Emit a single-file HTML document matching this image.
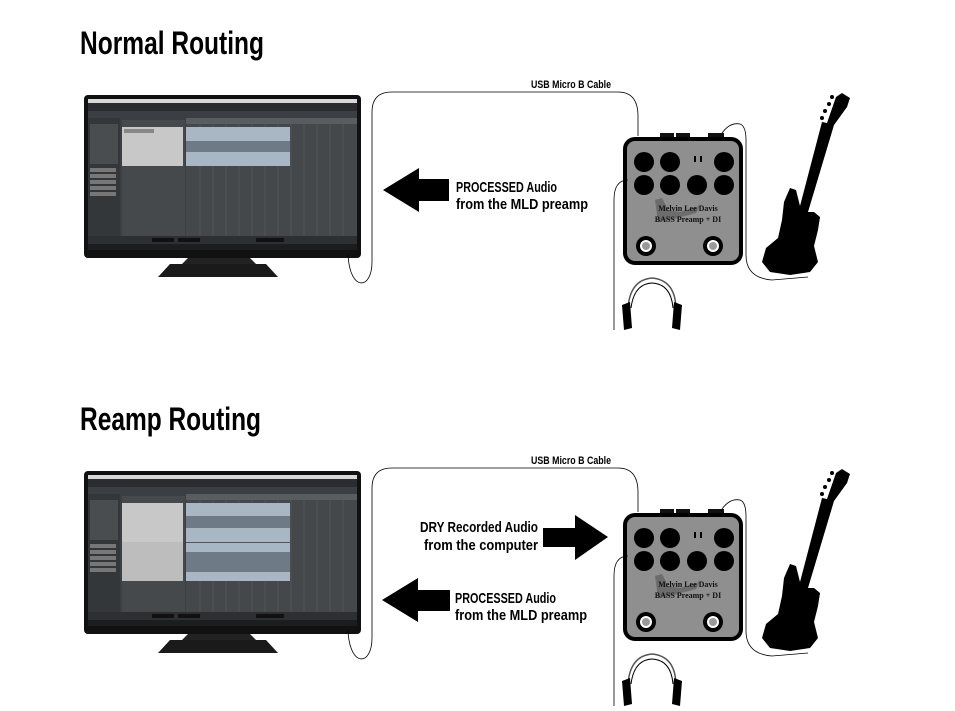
<!DOCTYPE html>
<html><head><meta charset="utf-8"><style>
html,body{margin:0;padding:0;background:#fff;}
svg{display:block;}
.t{font-family:"Liberation Sans",sans-serif;font-weight:bold;fill:#000;}
</style></head><body>
<svg width="955" height="711" viewBox="0 0 955 711" xmlns="http://www.w3.org/2000/svg">
<defs>
<g id="mon">
  <rect x="84" y="95" width="277" height="163" rx="4" fill="#111"/>
  <rect x="88" y="99" width="269" height="151" fill="#3b3e42"/>
  <rect x="88" y="99" width="269" height="4" fill="#d8d8d8"/>
  <rect x="88" y="103" width="269" height="8" fill="#2a2c2f"/>
  <rect x="88" y="118" width="32" height="118" fill="#34373a"/>
  <rect x="90" y="124" width="28" height="40" fill="#4a4d50"/>
  <rect x="90" y="168" width="26" height="4" fill="#777"/>
  <rect x="90" y="174" width="26" height="4" fill="#777"/>
  <rect x="90" y="180" width="26" height="4" fill="#777"/>
  <rect x="90" y="186" width="26" height="4" fill="#777"/>
  <rect x="90" y="192" width="26" height="4" fill="#777"/>
  <rect x="122" y="120" width="63" height="116" fill="#46494c"/>
  <rect x="186" y="118" width="171" height="118" fill="#45484b"/>
  <g stroke="#5a5d60" stroke-width="0.6">
   <line x1="200" y1="120" x2="200" y2="236"/><line x1="213" y1="120" x2="213" y2="236"/><line x1="226" y1="120" x2="226" y2="236"/><line x1="239" y1="120" x2="239" y2="236"/><line x1="252" y1="120" x2="252" y2="236"/><line x1="265" y1="120" x2="265" y2="236"/><line x1="278" y1="120" x2="278" y2="236"/><line x1="291" y1="120" x2="291" y2="236"/><line x1="304" y1="120" x2="304" y2="236"/><line x1="317" y1="120" x2="317" y2="236"/><line x1="330" y1="120" x2="330" y2="236"/><line x1="343" y1="120" x2="343" y2="236"/>
  </g>
  <rect x="186" y="118" width="171" height="6" fill="#5a5d60"/>
  <rect x="88" y="236" width="269" height="8" fill="#2d2f32"/>
  <rect x="88" y="244" width="269" height="6" fill="#1c1d1f"/>
  <rect x="152" y="238" width="22" height="4" fill="#111"/><rect x="178" y="238" width="22" height="4" fill="#111"/><rect x="256" y="238" width="28" height="4" fill="#111"/>
  <path d="M188 258 L250 258 L256 264 L182 264 Z" fill="#222"/>
  <path d="M170 264 L266 264 L278 277 L158 277 Z" fill="#1a1a1a"/>
</g>
<g id="pedal">
  <rect x="660" y="133" width="14" height="6" fill="#111"/><rect x="676" y="133" width="14" height="6" fill="#111"/><rect x="708" y="133" width="16" height="6" fill="#111"/>
  <rect x="625" y="139" width="116" height="124" rx="10" fill="#8f8f8f" stroke="#000" stroke-width="4"/>
  <g fill="#000">
   <circle cx="644" cy="162" r="10"/><circle cx="670" cy="162" r="10"/><circle cx="724" cy="162" r="10"/>
   <circle cx="644" cy="185" r="10"/><circle cx="670" cy="185" r="10"/><circle cx="697" cy="185" r="10"/><circle cx="724" cy="185" r="10"/>
   <rect x="694" y="156" width="2" height="6"/><rect x="700" y="156" width="2" height="6"/>
   <circle cx="646" cy="246" r="10"/><circle cx="713" cy="246" r="10"/>
  </g>
  <circle cx="646" cy="246" r="6" fill="#fff"/><circle cx="646" cy="246" r="4" fill="#999"/>
  <circle cx="713" cy="246" r="6" fill="#fff"/><circle cx="713" cy="246" r="4" fill="#999"/>
  <path d="M655 200 L662 198 L668 210 L680 212 L700 206 L696 213 L670 220 L658 222 Z" fill="#555" opacity="0.6"/>
  <text x="688" y="211" font-family="Liberation Serif,serif" font-weight="bold" font-size="8" text-anchor="middle" fill="#111">Melvin Lee Davis</text>
  <text x="688" y="222" font-family="Liberation Serif,serif" font-weight="bold" font-size="8" text-anchor="middle" fill="#111">BASS Preamp + DI</text>
  <path d="M827 123 L836 97 L842 93 L850 98 L847 107 L834 125 L808 212 L814 212 L820 217 L818 230 L814 246 L818 262 L810 272 L790 275 L770 272 L762 262 L766 248 L778 238 L782 220 L784 202 L790 188 L796 190 L800 206 L822 122 Z" fill="#000"/>
  <g fill="#000"><circle cx="832" cy="97" r="2"/><circle cx="829" cy="104" r="2"/><circle cx="825" cy="111" r="2"/><circle cx="822" cy="118" r="2"/></g>
  <g fill="none" stroke="#000" stroke-width="0.8">
   <path d="M628 180 Q614 180 614 200 L614 330"/>
   <path d="M722 133 Q730 122 740 124 Q746 126 746 140 L746 255 Q746 278 772 280 L808 277"/>
   <path d="M628 308 Q630 280 652 278 Q675 280 676 308" stroke-width="1.5" stroke="#555"/>
   <path d="M631 308 Q634 284 652 283 Q671 284 673 308" stroke-width="1"/>
  </g>
  <path d="M622 305 L630 302 L632 328 L624 330 Z" fill="#000"/>
  <path d="M674 302 L682 305 L680 330 L672 328 Z" fill="#000"/>
</g>
</defs>

<text class="t" x="80" y="54" font-size="32" textLength="184" lengthAdjust="spacingAndGlyphs">Normal Routing</text>
<use href="#mon"/>
<path d="M348 255 C350 292 372 290 372 262 L372 112 Q372 92 392 92 L618 92 Q638 92 638 116 L638 136" fill="none" stroke="#000" stroke-width="0.8"/>
<text class="t" x="531" y="88" font-size="11" textLength="80" lengthAdjust="spacingAndGlyphs">USB Micro B Cable</text>
<use href="#pedal"/>
<path d="M383 190 L419 168 L419 179 L449 179 L449 201 L419 201 L419 212 Z" fill="#000"/>
<text class="t" x="456" y="192" font-size="15" textLength="101" lengthAdjust="spacingAndGlyphs">PROCESSED Audio</text>
<text class="t" x="456" y="209" font-size="15" textLength="132" lengthAdjust="spacingAndGlyphs">from the MLD preamp</text>

<text class="t" x="80" y="430" font-size="32" textLength="181" lengthAdjust="spacingAndGlyphs">Reamp Routing</text>
<g transform="translate(0,376)">
<use href="#mon"/>
<rect x="186" y="127" width="104" height="78" fill="#a9b6c4"/>
<rect x="186" y="140" width="104" height="12" fill="#6e7a86"/>
<rect x="186" y="166" width="104" height="1" fill="#555"/>
<rect x="186" y="176" width="104" height="20" fill="#6e7a86"/>
<rect x="122" y="127" width="61" height="39" fill="#c8c8c8"/>
<rect x="122" y="166" width="61" height="39" fill="#bdbdbd"/>
<path d="M348 255 C350 292 372 290 372 262 L372 112 Q372 92 392 92 L618 92 Q638 92 638 116 L638 136" fill="none" stroke="#000" stroke-width="0.8"/>
<use href="#pedal"/>
</g>
<g>
<rect x="186" y="127" width="104" height="39" fill="#a9b6c4"/>
<rect x="186" y="141" width="104" height="11" fill="#6e7a86"/>
<rect x="122" y="127" width="61" height="39" fill="#c8c8c8"/>
<rect x="124" y="129" width="30" height="4" fill="#888"/>
</g>
<text class="t" x="531" y="464" font-size="11" textLength="80" lengthAdjust="spacingAndGlyphs">USB Micro B Cable</text>
<path d="M608 537 L575 515 L575 528 L543 528 L543 547 L575 547 L575 560 Z" fill="#000"/>
<text class="t" x="420" y="532" font-size="15" textLength="118" lengthAdjust="spacingAndGlyphs">DRY Recorded Audio</text>
<text class="t" x="424" y="550" font-size="15" textLength="114" lengthAdjust="spacingAndGlyphs">from the computer</text>
<path d="M382 600 L418 578 L418 590 L450 590 L450 611 L418 611 L418 622 Z" fill="#000"/>
<text class="t" x="455" y="603" font-size="15" textLength="101" lengthAdjust="spacingAndGlyphs">PROCESSED Audio</text>
<text class="t" x="455" y="620" font-size="15" textLength="132" lengthAdjust="spacingAndGlyphs">from the MLD preamp</text>
</svg>
</body></html>
